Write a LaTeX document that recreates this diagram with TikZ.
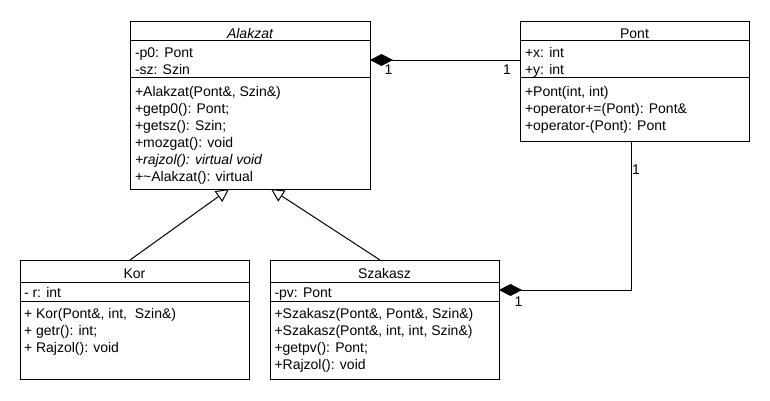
\documentclass[tikz,border=0pt]{standalone}
\usepackage{fontspec}
\setmainfont{Liberation Sans}
\usetikzlibrary{arrows.meta,calc}
\begin{document}
\begin{tikzpicture}[x=1pt,y=-1pt,line width=1pt,
  box/.style={draw,rectangle,inner sep=0pt,outer sep=0pt,anchor=north west},
  txt/.style={inner sep=0pt,outer sep=0pt,anchor=base west,font=\fontsize{14}{17}\selectfont},
  ttl/.style={inner sep=0pt,outer sep=0pt,anchor=base,font=\fontsize{14}{17}\selectfont},
  mult/.style={inner sep=0pt,outer sep=0pt,anchor=base,font=\fontsize{14}{17}\selectfont},
  comp/.style={-{Diamond[length=23pt,width=12pt]}},
  gen/.style={-{Triangle[open,length=13pt,width=13pt]}}]
\fill[white] (0,0) rectangle (770,400);
\useasboundingbox (0,0) rectangle (770,400);

% ---- Alakzat ----
\node[box,minimum width=240pt,minimum height=168pt] (alak) at (130,21) {};
\draw (alak.west |- 0,40) -- (alak.east |- 0,40);
\draw (alak.west |- 0,77) -- (alak.east |- 0,77);
\node[ttl] (alakT) at (250,38) {\itshape Alakzat};
\node[txt] (alakA1) at (135,57) {-p0: Pont};
\node[txt] (alakA2) at (135,74) {-sz: Szin};
\node[txt] (alakM1) at (135,96) {+Alakzat(Pont\&, Szin\&)};
\node[txt] (alakM2) at (135,113) {+getp0(): Pont;};
\node[txt] (alakM3) at (135,130) {+getsz(): Szin;};
\node[txt] (alakM4) at (135,147) {+mozgat(): void};
\node[txt] (alakM5) at (135,164) {\itshape +rajzol(): virtual void};
\node[txt] (alakM6) at (135,181) {+\textasciitilde Alakzat(): virtual};

% ---- Pont ----
\node[box,minimum width=229pt,minimum height=120pt] (pont) at (520,21) {};
\draw (pont.west |- 0,40) -- (pont.east |- 0,40);
\draw (pont.west |- 0,77) -- (pont.east |- 0,77);
\node[ttl] (pontT) at (634.5,38) {Pont};
\node[txt] (pontA1) at (525,57) {+x: int};
\node[txt] (pontA2) at (525,74) {+y: int};
\node[txt] (pontM1) at (525,96) {+Pont(int, int)};
\node[txt] (pontM2) at (525,113) {+operator+=(Pont): Pont\&};
\node[txt] (pontM3) at (525,130) {+operator-(Pont): Pont};

% ---- Kor ----
\node[box,minimum width=229pt,minimum height=119pt] (kor) at (20,260) {};
\draw (kor.west |- 0,282) -- (kor.east |- 0,282);
\draw (kor.west |- 0,301) -- (kor.east |- 0,301);
\node[ttl] (korT) at (134.5,278) {Kor};
\node[txt] (korA1) at (24,297) {- r: int};
\node[txt] (korM1) at (24,318.5) {+ Kor(Pont\&, int,\ \ Szin\&)};
\node[txt] (korM2) at (24,335.5) {+ getr(): int;};
\node[txt] (korM3) at (24,352.5) {+ Rajzol(): void};

% ---- Szakasz ----
\node[box,minimum width=229pt,minimum height=119pt] (szak) at (270,260) {};
\draw (szak.west |- 0,282) -- (szak.east |- 0,282);
\draw (szak.west |- 0,301) -- (szak.east |- 0,301);
\node[ttl] (szakT) at (384.5,278) {Szakasz};
\node[txt] (szakA1) at (274.5,297) {-pv: Pont};
\node[txt] (szakM1) at (274.5,318.5) {+Szakasz(Pont\&, Pont\&, Szin\&)};
\node[txt] (szakM2) at (274.5,335.5) {+Szakasz(Pont\&, int, int, Szin\&)};
\node[txt] (szakM3) at (274.5,352.5) {+getpv(): Pont;};
\node[txt] (szakM4) at (274.5,369.5) {+Rajzol(): void};

% ---- connectors ----
\coordinate (pc1) at ([yshift=-39pt]pont.north west);
\draw[comp] (pc1) -- (pc1 -| alak.east);
\coordinate (pc2) at ([xshift=-3.5pt]pont.south);
\coordinate (sc2) at ([yshift=-30pt]szak.north east);
\draw[comp] (pc2) |- (sc2);
\coordinate (k1) at ([xshift=-4.5pt]kor.north);
\coordinate (a1) at ([xshift=-21pt]alak.south);
\draw[gen] (k1) -- (a1);
\coordinate (s1) at ([xshift=-4.5pt]szak.north);
\coordinate (a2) at ([xshift=21pt]alak.south);
\draw[gen] (s1) -- (a2);

% ---- multiplicities ----
\node[mult] (m1) at (388.5,74) {1};
\node[mult] (m2) at (507,74) {1};
\node[mult] (m3) at (636,174) {1};
\node[mult] (m4) at (518.5,306) {1};
\end{tikzpicture}
\end{document}
